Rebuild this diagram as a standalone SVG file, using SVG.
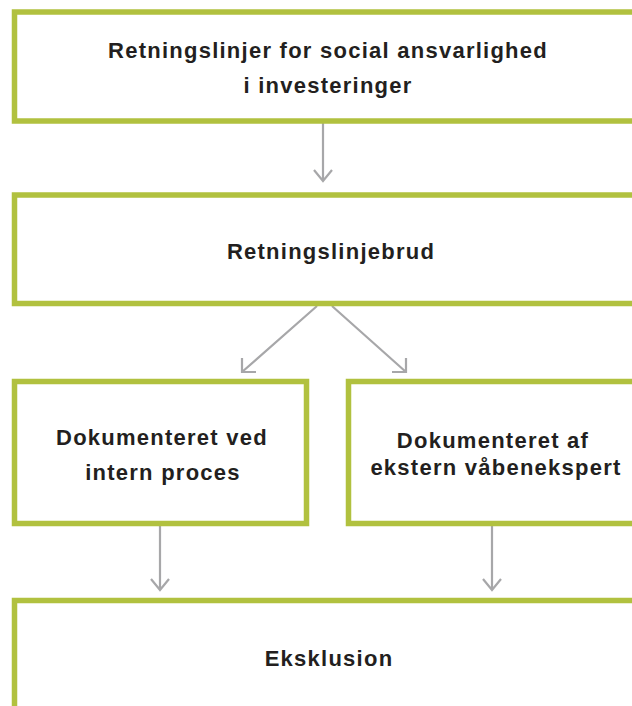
<svg xmlns="http://www.w3.org/2000/svg" width="632" height="706" viewBox="0 0 632 706">
<style>
.box{fill:#ffffff;stroke:#b1c13f;stroke-width:5.5}
.lbl{font-family:"Liberation Sans",Arial,sans-serif;font-weight:bold;font-size:22px;fill:#231f20;text-anchor:middle;letter-spacing:1.25px}
.conn{fill:none;stroke:#a7a7a9;stroke-width:2.2}
</style>
<rect width="632" height="706" fill="#ffffff"/>
<g id="connectors">
<path class="conn" d="M323 123 V181 M314 170 L323 181 L332 170"/>
<path class="conn" d="M317 306 L242 372 M242 358 V372 H256"/>
<path class="conn" d="M332 306 L406 372 M392 372 H406 V358"/>
<path class="conn" d="M160 526 V590 M151 579 L160 590 L169 579"/>
<path class="conn" d="M492 526 V590 M483 579 L492 590 L501 579"/>
</g>
<g id="n1">
<rect class="box" x="14.5" y="12" width="622" height="109"/>
<text class="lbl" x="328" y="58">Retningslinjer for social ansvarlighed</text>
<text class="lbl" x="328" y="93">i investeringer</text>
</g>
<g id="n2">
<rect class="box" x="14.5" y="195" width="622" height="108.5"/>
<text class="lbl" x="331" y="259">Retningslinjebrud</text>
</g>
<g id="n3">
<rect class="box" x="14.5" y="381.5" width="292" height="142"/>
<text class="lbl" x="162" y="445">Dokumenteret ved</text>
<text class="lbl" x="163" y="480">intern proces</text>
</g>
<g id="n4">
<rect class="box" x="348.5" y="381.5" width="292" height="142"/>
<text class="lbl" x="493" y="448">Dokumenteret af</text>
<text class="lbl" x="496" y="475">ekstern våbenekspert</text>
</g>
<g id="n5">
<rect class="box" x="14.5" y="600.5" width="622" height="120"/>
<text class="lbl" x="329" y="666">Eksklusion</text>
</g>
</svg>
